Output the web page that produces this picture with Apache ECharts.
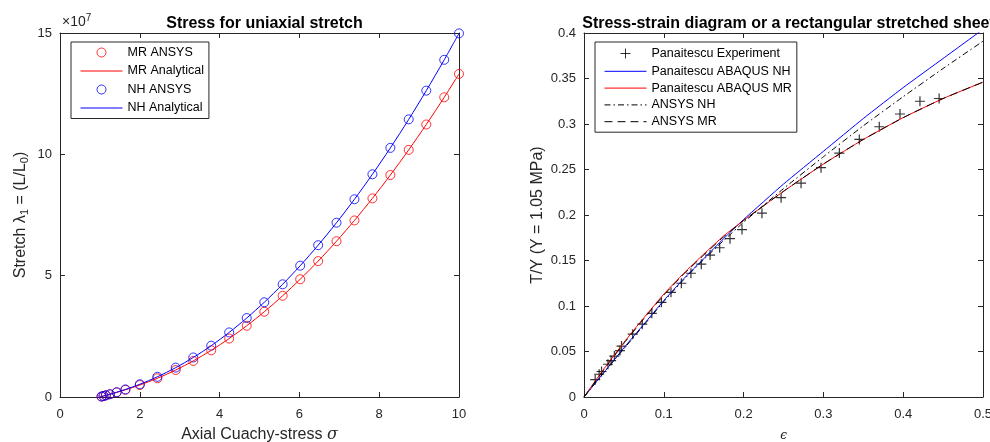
<!DOCTYPE html>
<html>
<head>
<meta charset="utf-8">
<script src="https://cdn.jsdelivr.net/npm/echarts@6/dist/echarts.min.js"></script>
<style>
  html, body { margin: 0; padding: 0; background: #fff; }
  #chart { width: 990px; height: 442px; }
</style>
</head>
<body>
<div id="chart"></div>
<script>
// ---- Left panel: uniaxial stretch (stress values in units of 1e7) ----
const stretchPts = [1.04, 1.09, 1.15, 1.25, 1.42, 1.64, 2.00, 2.44, 2.90, 3.34, 3.79, 4.24, 4.68,
                    5.12, 5.58, 6.02, 6.47, 6.93, 7.38, 7.83, 8.28, 8.74, 9.18, 9.63, 10.00];
const mrAnsys = [0.018, 0.040, 0.067, 0.112, 0.190, 0.297, 0.493, 0.771, 1.111, 1.487, 1.922, 2.409, 2.936,
                 3.513, 4.171, 4.852, 5.600, 6.420, 7.276, 8.185, 9.147, 10.185, 11.230, 12.350, 13.313];
const nhAnsys = [0.018, 0.041, 0.068, 0.114, 0.197, 0.312, 0.525, 0.832, 1.210, 1.628, 2.115, 2.661, 3.253,
                 3.903, 4.644, 5.411, 6.256, 7.182, 8.149, 9.177, 10.266, 11.441, 12.625, 13.895, 14.985];
const stretchCurve = [1.00, 1.04, 1.09, 1.15, 1.25, 1.42, 1.64, 2.00, 2.44, 2.90, 3.34, 3.79, 4.24, 4.68,
                      5.12, 5.58, 6.02, 6.47, 6.93, 7.38, 7.83, 8.28, 8.74, 9.18, 9.63, 10.00];
const mrAnalytical = [0, 0.018, 0.040, 0.067, 0.112, 0.190, 0.297, 0.493, 0.771, 1.111, 1.487, 1.922, 2.409, 2.936,
                      3.513, 4.171, 4.852, 5.600, 6.420, 7.276, 8.185, 9.147, 10.185, 11.230, 12.350, 13.313];
const nhAnalytical = [0, 0.018, 0.041, 0.068, 0.114, 0.197, 0.312, 0.525, 0.832, 1.210, 1.628, 2.115, 2.661, 3.253,
                      3.903, 4.644, 5.411, 6.256, 7.182, 8.149, 9.177, 10.266, 11.441, 12.625, 13.895, 14.985];
const leftXTicks = { min: 0, max: 10, interval: 2 };
const leftYTicks = { min: 0, max: 15, interval: 5 };

// ---- Right panel: stress-strain of a stretched sheet ----
const expStrain = [0.014, 0.019, 0.022, 0.030, 0.034, 0.038, 0.045, 0.047, 0.061, 0.073, 0.085, 0.097,
                   0.109, 0.122, 0.134, 0.147, 0.158, 0.170, 0.183, 0.198, 0.223, 0.247, 0.272, 0.297,
                   0.320, 0.345, 0.370, 0.396, 0.421, 0.445];
const expStress = [0.019, 0.025, 0.028, 0.036, 0.040, 0.045, 0.051, 0.056, 0.069, 0.080, 0.092, 0.104,
                   0.115, 0.125, 0.136, 0.146, 0.156, 0.164, 0.174, 0.184, 0.202, 0.219, 0.235, 0.252,
                   0.268, 0.283, 0.297, 0.311, 0.325, 0.328];
const strainCurve = [0, 0.025, 0.05, 0.075, 0.1, 0.125, 0.15, 0.175, 0.2, 0.25, 0.3, 0.35, 0.4, 0.45, 0.5];
const abaqusNH = [0, 0.027, 0.054, 0.080, 0.106, 0.130, 0.152, 0.174, 0.195, 0.234, 0.270, 0.306, 0.340, 0.372, 0.404];
const abaqusMR = [0, 0.031, 0.060, 0.087, 0.113, 0.136, 0.157, 0.177, 0.194, 0.226, 0.256, 0.283, 0.307, 0.328, 0.346];
const ansysNH  = [0, 0.027, 0.053, 0.079, 0.105, 0.129, 0.151, 0.172, 0.192, 0.229, 0.264, 0.298, 0.330, 0.361, 0.391];
const ansysMR  = [0, 0.030, 0.059, 0.086, 0.112, 0.135, 0.156, 0.176, 0.194, 0.226, 0.256, 0.283, 0.307, 0.328, 0.346];
const rightXTicks = { min: 0, max: 0.5, interval: 0.1 };
const rightYTicks = { min: 0, max: 0.4, interval: 0.05 };

const pairs = (xs, ys) => xs.map((x, i) => [x, ys[i]]);

const AX = '#262626';
const FONT = '"Liberation Sans", Arial, Helvetica, sans-serif';
const PLUS = 'path://M5,0L5,10M0,5L10,5';

function mainAxis(gridIndex, ticks, extra) {
  return Object.assign({
    type: 'value', gridIndex: gridIndex,
    min: ticks.min, max: ticks.max, interval: ticks.interval,
    axisLine: { show: true, onZero: false, lineStyle: { color: AX, width: 1 } },
    axisTick: { show: true, inside: true, length: 5, lineStyle: { color: AX } },
    axisLabel: { color: AX, fontSize: 13, fontFamily: FONT, margin: 8 },
    splitLine: { show: false },
    nameLocation: 'middle'
  }, extra);
}
function boxAxis(gridIndex, ticks, position) {
  return {
    type: 'value', gridIndex: gridIndex, position: position,
    min: ticks.min, max: ticks.max, interval: ticks.interval,
    axisLine: { show: true, onZero: false, lineStyle: { color: AX, width: 1 } },
    axisTick: { show: true, inside: true, length: 5, lineStyle: { color: AX } },
    axisLabel: { show: false },
    splitLine: { show: false }
  };
}

const nameStyle = { color: AX, fontSize: 16, fontFamily: FONT };
// legend entries for plain lines: hide the marker that the legend adds in the middle
const lineEntry = (name) => ({ name: name, itemStyle: { opacity: 0 } });
const markEntry = (name) => ({ name: name, itemStyle: { borderWidth: 1 } });

const option = {
  backgroundColor: '#fff',
  animation: false,
  textStyle: { fontFamily: FONT },
  title: [
    { text: 'Stress for uniaxial stretch', left: 259.5, top: 11, textAlign: 'center',
      textStyle: { fontSize: 16, fontWeight: 'bold', color: '#000', fontFamily: FONT } },
    { text: 'Stress-strain diagram or a rectangular stretched sheet', left: 783.5, top: 11, textAlign: 'center',
      textStyle: { fontSize: 16, fontWeight: 'bold', color: '#000', fontFamily: FONT } }
  ],
  grid: [
    { left: 60, top: 33, width: 399, height: 364, outerBoundsMode: 'none', containLabel: false,
      show: true, backgroundColor: '#fff', borderWidth: 0 },
    { left: 584, top: 33, width: 399, height: 364, outerBoundsMode: 'none', containLabel: false,
      show: true, backgroundColor: '#fff', borderWidth: 0 }
  ],
  xAxis: [
    mainAxis(0, leftXTicks, {
      axisLabel: { color: AX, fontSize: 13, fontFamily: FONT, margin: 11 },
      name: 'Axial Cuachy-stress {it|σ}', nameGap: 30,
      nameTextStyle: Object.assign({}, nameStyle, {
        rich: { it: { fontStyle: 'italic', fontSize: 16, fontFamily: '"DejaVu Serif", serif', color: AX } }
      })
    }),
    mainAxis(1, rightXTicks, {
      axisLabel: { color: AX, fontSize: 13, fontFamily: FONT, margin: 11 },
      name: 'ϵ', nameGap: 33,
      nameTextStyle: { color: AX, fontSize: 12, fontStyle: 'italic', fontFamily: '"DejaVu Serif", serif' }
    }),
    boxAxis(0, leftXTicks, 'top'),
    boxAxis(1, rightXTicks, 'top')
  ],
  yAxis: [
    mainAxis(0, leftYTicks, {
      name: 'Stretch λ{sub|1} = (L/L{sub|0})', nameGap: 30,
      nameTextStyle: Object.assign({}, nameStyle, {
        lineHeight: 19,
        rich: { sub: { fontSize: 11, color: AX, fontFamily: FONT, lineHeight: 19, padding: [9, 0, 0, 0] } }
      })
    }),
    mainAxis(1, rightYTicks, {
      name: 'T/Y (Y = 1.05 MPa)', nameGap: 38, nameTextStyle: nameStyle
    }),
    boxAxis(0, leftYTicks, 'right'),
    boxAxis(1, rightYTicks, 'right')
  ],
  legend: [
    {
      data: [markEntry('MR ANSYS'), lineEntry('MR Analytical'), markEntry('NH ANSYS'), lineEntry('NH Analytical')],
      orient: 'vertical', left: 71, top: 42,
      itemWidth: 42, itemHeight: 9, itemGap: 5.5,
      padding: [4, 5, 4, 9],
      borderColor: AX, borderWidth: 1, backgroundColor: '#fff',
      lineStyle: { width: 1 },
      textStyle: { fontSize: 12.5, color: '#000', fontFamily: FONT },
      selectedMode: false
    },
    {
      data: [markEntry('Panaitescu Experiment'), lineEntry('Panaitescu ABAQUS NH'), lineEntry('Panaitescu ABAQUS MR'),
             lineEntry('ANSYS NH'), lineEntry('ANSYS MR')],
      orient: 'vertical', left: 595, top: 42,
      itemWidth: 42, itemHeight: 10, itemGap: 3.8,
      padding: [4, 5, 4, 9],
      borderColor: AX, borderWidth: 1, backgroundColor: '#fff',
      lineStyle: { width: 1 },
      textStyle: { fontSize: 12.5, color: '#000', fontFamily: FONT },
      selectedMode: false
    }
  ],
  graphic: [
    { type: 'text', left: 62, top: 13,
      style: { text: '×10{sup|7}', fill: AX, font: '14px ' + FONT,
        rich: { sup: { fontSize: 10, fill: AX, padding: [0, 0, 8, 0] } } } }
  ],
  series: [
    { name: 'MR ANSYS', type: 'scatter', xAxisIndex: 0, yAxisIndex: 0,
      data: pairs(stretchPts, mrAnsys), symbol: 'circle', symbolSize: 9,
      itemStyle: { color: 'transparent', borderColor: '#ff0000', borderWidth: 1 } },
    { name: 'MR Analytical', type: 'line', xAxisIndex: 0, yAxisIndex: 0,
      data: pairs(stretchCurve, mrAnalytical), symbol: 'none', smooth: 0.3,
      lineStyle: { color: '#ff0000', width: 1 }, itemStyle: { color: '#ff0000' } },
    { name: 'NH ANSYS', type: 'scatter', xAxisIndex: 0, yAxisIndex: 0,
      data: pairs(stretchPts, nhAnsys), symbol: 'circle', symbolSize: 9,
      itemStyle: { color: 'transparent', borderColor: '#0000ff', borderWidth: 1 } },
    { name: 'NH Analytical', type: 'line', xAxisIndex: 0, yAxisIndex: 0,
      data: pairs(stretchCurve, nhAnalytical), symbol: 'none', smooth: 0.3,
      lineStyle: { color: '#0000ff', width: 1 }, itemStyle: { color: '#0000ff' } },

    { name: 'Panaitescu Experiment', type: 'scatter', xAxisIndex: 1, yAxisIndex: 1,
      data: pairs(expStrain, expStress), symbol: PLUS, symbolSize: 10,
      itemStyle: { color: 'none', borderColor: '#000', borderWidth: 1.2 } },
    { name: 'Panaitescu ABAQUS NH', type: 'line', xAxisIndex: 1, yAxisIndex: 1,
      data: pairs(strainCurve, abaqusNH), symbol: 'none', smooth: 0.15,
      lineStyle: { color: '#0000ff', width: 1 }, itemStyle: { color: '#0000ff' } },
    { name: 'Panaitescu ABAQUS MR', type: 'line', xAxisIndex: 1, yAxisIndex: 1,
      data: pairs(strainCurve, abaqusMR), symbol: 'none', smooth: 0.15,
      lineStyle: { color: '#ff0000', width: 1 }, itemStyle: { color: '#ff0000' } },
    { name: 'ANSYS NH', type: 'line', xAxisIndex: 1, yAxisIndex: 1,
      data: pairs(strainCurve, ansysNH), symbol: 'none', smooth: 0.15,
      lineStyle: { color: '#000', width: 1, type: [6, 3, 1.5, 3] }, itemStyle: { color: '#000' } },
    { name: 'ANSYS MR', type: 'line', xAxisIndex: 1, yAxisIndex: 1,
      data: pairs(strainCurve, ansysMR), symbol: 'none', smooth: 0.15,
      lineStyle: { color: '#000', width: 1, type: [8, 5] }, itemStyle: { color: '#000' } }
  ]
};

const chart = echarts.init(document.getElementById('chart'), null, { renderer: 'canvas' });
chart.setOption(option);
</script>
</body>
</html>
